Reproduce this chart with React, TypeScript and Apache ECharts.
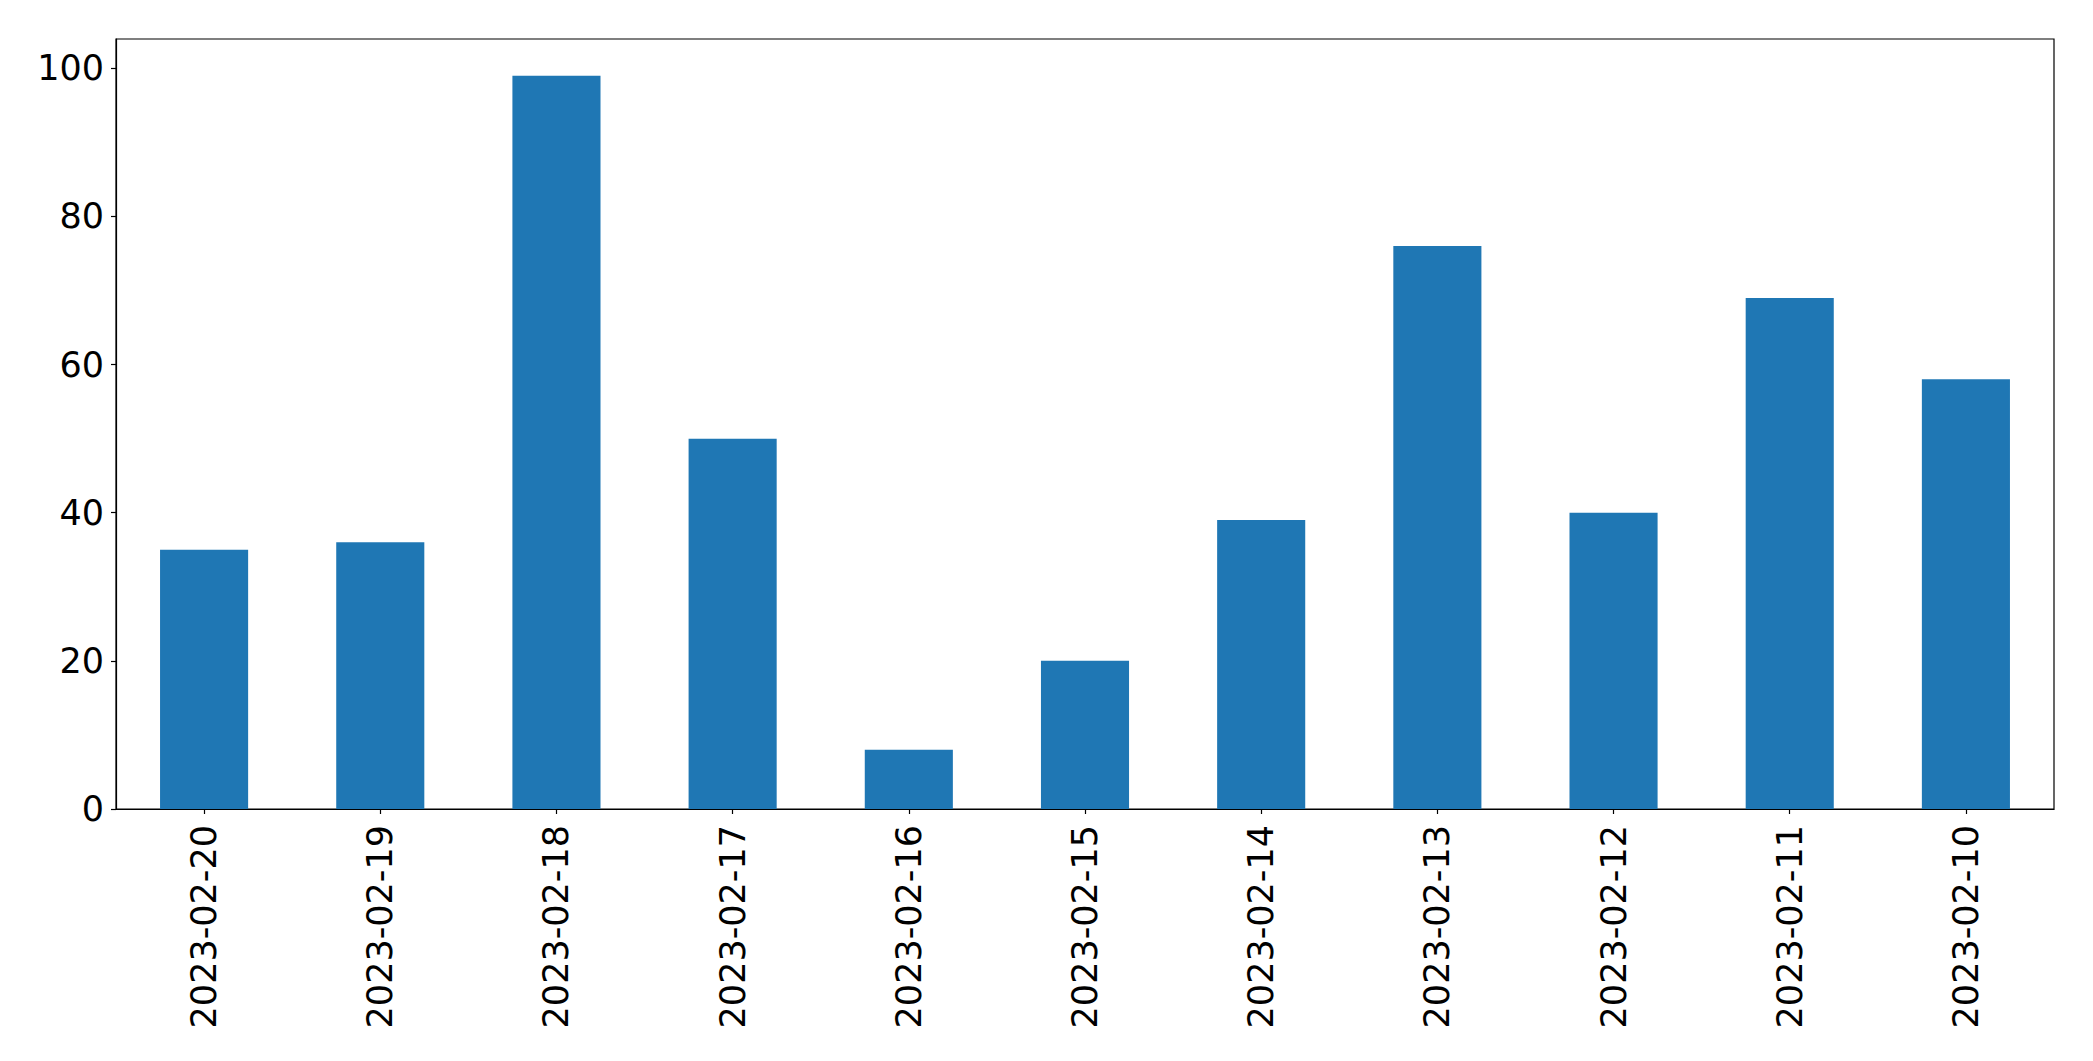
import React, { useEffect, useRef } from "react";
import * as echarts from "echarts";

const categories = [
  "2023-02-20",
  "2023-02-19",
  "2023-02-18",
  "2023-02-17",
  "2023-02-16",
  "2023-02-15",
  "2023-02-14",
  "2023-02-13",
  "2023-02-12",
  "2023-02-11",
  "2023-02-10",
];
const values = [35, 36, 99, 50, 8, 20, 39, 76, 40, 69, 58];
const yTicks = [0, 20, 40, 60, 80, 100];

export default function App() {
  const ref = useRef<HTMLDivElement>(null);
  useEffect(() => {
    if (!ref.current) return;
    const chart = echarts.init(ref.current, null, { renderer: "svg" });
    const font = "DejaVu Sans";
    const yMax = Math.max(...values) * 1.05;
    chart.setOption({
      animation: false,
      backgroundColor: "#ffffff",
      grid: {
        left: 116,
        top: 39,
        right: 39,
        bottom: 252,
        show: true,
        borderColor: "#000000",
        borderWidth: 1.2,
        backgroundColor: "transparent",
      },
      xAxis: {
        type: "category",
        data: categories,
        boundaryGap: true,
        axisLine: { show: true, lineStyle: { color: "#000", width: 1.2 } },
        axisTick: {
          show: true,
          alignWithLabel: true,
          length: 5,
          lineStyle: { color: "#000", width: 1.2 },
        },
        axisLabel: {
          rotate: 90,
          margin: 16,
          fontSize: 35,
          fontFamily: font,
          color: "#000",
          interval: 0,
        },
        splitLine: { show: false },
      },
      yAxis: {
        type: "value",
        min: 0,
        max: yMax,
        interval: 20,
        axisLine: { show: true, lineStyle: { color: "#000", width: 1.2 } },
        axisTick: {
          show: true,
          length: 5,
          customValues: yTicks,
          lineStyle: { color: "#000", width: 1.2 },
        },
        axisLabel: {
          margin: 12,
          fontSize: 35,
          fontFamily: font,
          color: "#000",
          customValues: yTicks,
        },
        splitLine: { show: false },
      },
      series: [
        {
          type: "bar",
          data: values,
          barWidth: "50%",
          itemStyle: { color: "#1f77b4" },
        },
      ],
    });
    return () => chart.dispose();
  }, []);
  return (
    <div
      ref={ref}
      style={{ position: "absolute", left: 0, top: 0, width: 2093, height: 1061 }}
    />
  );
}
